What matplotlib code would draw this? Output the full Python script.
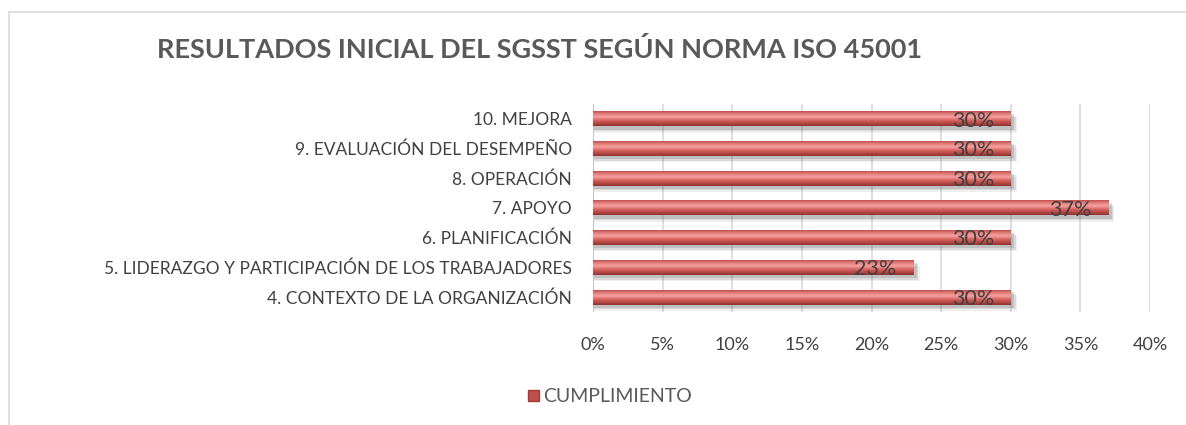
import numpy as np
import matplotlib
matplotlib.use("Agg")
import matplotlib.pyplot as plt
from matplotlib.patches import Rectangle, Patch
from matplotlib.colors import LinearSegmentedColormap

plt.rcParams["font.family"] = ["Lato", "DejaVu Sans"]

categories = [
    "4. CONTEXTO DE LA ORGANIZACIÓN",
    "5. LIDERAZGO Y PARTICIPACIÓN DE LOS TRABAJADORES",
    "6. PLANIFICACIÓN",
    "7. APOYO",
    "8. OPERACIÓN",
    "9. EVALUACIÓN DEL DESEMPEÑO",
    "10. MEJORA",
]
cumplimiento = [30, 23, 30, 37, 30, 30, 30]
ticks = [0, 5, 10, 15, 20, 25, 30, 35, 40]
title = "RESULTADOS INICIAL DEL SGSST SEGÚN NORMA ISO 45001"
series_name = "CUMPLIMIENTO"

W, H = 1186, 425
fig = plt.figure(figsize=(W / 100, H / 100), dpi=100)
fig.patch.set_facecolor("white")

# chart frame
fig.patches.append(Rectangle((9 / W, -0.05), 1.2, 1 - 12 / H + 0.05,
                             transform=fig.transFigure, fill=False,
                             edgecolor="#d9d9d9", linewidth=1.2))

ax = fig.add_axes([593 / W, 1 - 312 / H, (1150 - 593) / W, (312 - 104) / H])

# gradient for bars (dark bottom, light top)
cmap = LinearSegmentedColormap.from_list(
    "bar", ["#8e3330", "#b94a47", "#d96663", "#f4a09e", "#e58380", "#c0504d"])
grad = np.linspace(0, 1, 64).reshape(-1, 1)

h = 0.5
y = np.arange(len(categories))
for yi, v in zip(y, cumplimiento):
    # soft shadow
    for k, a in enumerate([0.10, 0.15, 0.22]):
        off = 0.05 * (3 - k)
        ax.add_patch(Rectangle((0.1, yi - h / 2 - off - 0.06), v + 0.35 - 0.1 * k, h + 0.02,
                               facecolor="#666666", alpha=a, linewidth=0, zorder=2))
    ax.imshow(grad, cmap=cmap, aspect="auto", origin="lower",
              extent=[0, v, yi - h / 2, yi + h / 2], zorder=3)
    ax.text(v - 1.2, yi - 0.06, f"{v}%", ha="right", va="center",
            fontsize=15.5, color="#404040", zorder=4)

ax.set_xlim(0, 40)
ax.set_ylim(-0.5, len(categories) - 0.5)
ax.set_yticks(y)
ax.set_yticklabels(categories, fontsize=12.5, color="#404040")
ax.set_xticks(ticks)
ax.set_xticklabels([f"{t}%" for t in ticks], fontsize=13, color="#404040")
ax.tick_params(length=0, pad=15, axis="y")
ax.tick_params(length=0, pad=18, axis="x")
ax.grid(axis="x", color="#d9d9d9", linewidth=1.2, zorder=0)
ax.set_axisbelow(True)
for s in ax.spines.values():
    s.set_visible(False)
ax.axvline(0, color="#bfbfbf", linewidth=1.2, zorder=1)

fig.text(540 / W, 1 - 50 / H, title, ha="center", va="center",
         fontsize=19.5, fontweight="bold", color="#595959")

fig.legend(handles=[Patch(facecolor="#c0504d", edgecolor="#a03c39")],
           labels=[series_name], loc="center", bbox_to_anchor=(610 / W, 1 - 397 / H),
           frameon=False, fontsize=14, handlelength=0.55, handleheight=0.55,
           handletextpad=0.2, labelcolor="#595959")

fig.savefig("out.png", dpi=100)
